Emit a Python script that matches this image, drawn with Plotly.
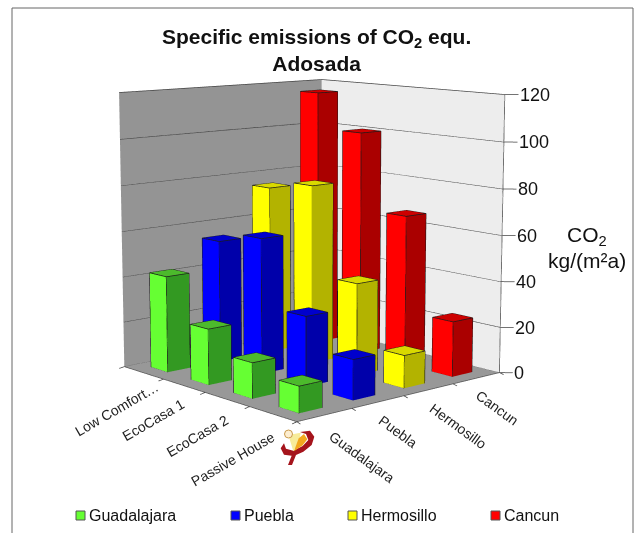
import plotly.graph_objects as go
import numpy as np

categories = ["Low Comfort…", "EcoCasa 1", "EcoCasa 2", "Passive House"]
cities = ["Guadalajara", "Puebla", "Hermosillo", "Cancun"]
guadalajara = [42, 24, 15, 11]
puebla = [54, 59, 30, 17]
hermosillo = [75, 79, 40, 14]
cancun = [116, 100, 66, 24]
z_ticks = [0, 20, 40, 60, 80, 100, 120]

series = [guadalajara, puebla, hermosillo, cancun]
face_cols = [
    ("#66ff33", "#339922", "#4cba2c"),
    ("#0000ff", "#0000aa", "#0000cc"),
    ("#ffff00", "#b3b300", "#d9d900"),
    ("#ff0000", "#aa0000", "#cc0000"),
]
# Plotly's 3D view has a fixed 45 degree field of view, so the mild perspective of the
# reference needs a tall scene; the page shows the part of it that holds the chart.
W, H = 1363, 1363
LEFT, TOP = -371, -448
BW = 0.42
PAD = 0.25
ZMAX = 120

fig = go.Figure()

def quad_mesh(pts, color, name):
    p = np.array(pts, float)
    fig.add_trace(go.Mesh3d(x=p[:, 0], y=p[:, 1], z=p[:, 2], i=[0, 0], j=[1, 2], k=[2, 3],
                            color=color, flatshading=True, name=name, hoverinfo="skip",
                            lighting=dict(ambient=1, diffuse=0, specular=0, roughness=1, fresnel=0)))

def line3d(xs, ys, zs, color="#333333", width=1.5):
    fig.add_trace(go.Scatter3d(x=xs, y=ys, z=zs, mode="lines", hoverinfo="skip",
                               line=dict(color=color, width=width), showlegend=False))

# floor and walls
quad_mesh([(0, 0, 0), (4, 0, 0), (4, 4, 0), (0, 4, 0)], "#989898", "floor")
quad_mesh([(0, 0, 0), (0, 4, 0), (0, 4, ZMAX), (0, 0, ZMAX)], "#949494", "wall left")
quad_mesh([(0, 4, 0), (4, 4, 0), (4, 4, ZMAX), (0, 4, ZMAX)], "#ededed", "wall right")

# gridlines + ticks
for v in z_ticks:
    line3d([0, 0, 4, 4.14], [0, 4, 4, 4.14], [v] * 4, "#444444", 1.5)
line3d([0, 4, 4], [0, 0, 4], [0, 0, 0], "#555555", 1.5)
for t in range(5):
    line3d([t, t + 0.04], [0, -0.12], [0, 0], "#444444", 1.5)
    line3d([4, 4.12], [t, t - 0.04], [0, 0], "#444444", 1.5)
line3d([4, 4], [4, 4], [0, ZMAX], "#444444", 1.5)

# bars
for j, vals in enumerate(series):
    front, side, top = face_cols[j]
    for i, v in enumerate(vals):
        x0, x1 = i + 0.5 - BW / 2, i + 0.5 + BW / 2
        y0, y1 = j + 0.5 - BW / 2, j + 0.5 + BW / 2
        quad_mesh([(x0, y0, 0), (x1, y0, 0), (x1, y0, v), (x0, y0, v)], front, cities[j])
        quad_mesh([(x1, y0, 0), (x1, y1, 0), (x1, y1, v), (x1, y0, v)], side, cities[j])
        quad_mesh([(x0, y0, v), (x1, y0, v), (x1, y1, v), (x0, y1, v)], top, cities[j])
        line3d([x0, x1, x1, x0, x0, x0, x1, x1, x1, x1], [y0, y0, y1, y1, y0, y0, y0, y0, y1, y1],
               [v, v, v, v, v, 0, 0, v, v, 0], "#1a1a1a", 1.5)
        line3d([x1, x1], [y0, y0], [0, v], "#1a1a1a", 1.5)

font = "Liberation Sans, Arial, sans-serif"
cat_shift = [(31, 1), (17, 5), (18, 7), (19, 9)]
city_shift = [(-11, 7), (-15, 5), (-15, 5), (-16, 4)]
scene_ann = []
for i, c in enumerate(categories):
    scene_ann.append(dict(x=i + 0.5, y=-0.2, z=0, text=c, showarrow=False, textangle=-30,
                          xanchor="right", yanchor="top", xshift=cat_shift[i][0], yshift=-cat_shift[i][1],
                          font=dict(family=font, size=14, color="#222222")))
for j, c in enumerate(cities):
    scene_ann.append(dict(x=4.2, y=j + 0.5, z=0, text=c, showarrow=False, textangle=36,
                          xanchor="left", yanchor="top", xshift=city_shift[j][0], yshift=-city_shift[j][1],
                          font=dict(family=font, size=14, color="#222222")))
for v in z_ticks:
    scene_ann.append(dict(x=4.2, y=4.2, z=v, text=str(v), showarrow=False, xanchor="left", yanchor="middle",
                          xshift=-6, font=dict(family=font, size=18, color="#111111")))

fig.update_layout(
    width=W, height=H, margin=dict(l=0, r=0, t=0, b=0),
    paper_bgcolor="white", showlegend=False,
    scene=dict(
        domain=dict(x=[0, 1], y=[0, 1]),
        xaxis=dict(visible=False, range=[-PAD, 4 + PAD]),
        yaxis=dict(visible=False, range=[-PAD, 4 + PAD]),
        zaxis=dict(visible=False, range=[-5, 125]),
        aspectmode="manual", aspectratio=dict(x=1, y=1, z=1.0),
        camera=dict(projection=dict(type="perspective"),
                    eye=dict(x=4.02, y=-3.534, z=0.896),
                    up=dict(x=0, y=0, z=1), center=dict(x=0, y=0, z=0)),
        annotations=scene_ann,
    ),
)

def px(x): return (x - LEFT) / W
def py(y): return 1 - (y - TOP) / H

centered = dict(xanchor="center", yanchor="middle")
ann = [
    dict(x=px(317), y=py(50), text="<b>Specific emissions of CO<sub>2</sub> equ.<br>Adosada</b>", showarrow=False,
         font=dict(family=font, size=21, color="#111111"), **centered),
    dict(x=px(587), y=py(236), text="CO<sub>2</sub>", showarrow=False, font=dict(family=font, size=21, color="#111111"), **centered),
    dict(x=px(587), y=py(260), text="kg/(m²a)", showarrow=False, font=dict(family=font, size=21, color="#111111"), **centered),
]
legend_x = [76, 231, 348, 491]
shapes = []
for c, lx, col in zip(cities, legend_x, face_cols):
    shapes.append(dict(type="rect", xref="paper", yref="paper", x0=px(lx), x1=px(lx + 9), y0=py(520), y1=py(511),
                       fillcolor=col[0], line=dict(color="#555555", width=1)))
    ann.append(dict(x=px(lx + 11), y=py(515.5), text=c, showarrow=False, xanchor="left", yanchor="middle",
                    font=dict(family=font, size=16, color="#111111")))

# frame of the picture: top, left and right edges
shapes.append(dict(type="path", xref="paper", yref="paper",
                   path=f"M{px(12)} {py(533)} L{px(12)} {py(8)} L{px(633)} {py(8)} L{px(633)} {py(533)}",
                   line=dict(color="#666666", width=1)))

# small logo under the front corner
def logo_path(points):
    segs = [f"{px(260 + a / 3):.5f} {py(410 + b / 3):.5f}" for a, b in points]
    return "M" + " L".join(segs) + " Z"

logo_parts = [
    ([(120, 66), (150, 62), (163, 80), (155, 105), (130, 125), (108, 135), (96, 165), (84, 165),
      (95, 137), (72, 134), (62, 115), (72, 100), (78, 116), (100, 122), (128, 108), (145, 90), (138, 72)], "#a5141c"),
    ([(85, 75), (122, 68), (116, 100), (100, 124)], "#f7ec9a"),
    ([(102, 124), (116, 85), (132, 72), (142, 88), (128, 106)], "#f2a81e"),
]
for pts, col in logo_parts:
    shapes.append(dict(type="path", xref="paper", yref="paper", path=logo_path(pts), fillcolor=col,
                       line=dict(width=0)))
shapes.append(dict(type="circle", xref="paper", yref="paper", x0=px(284.5), x1=px(292.5), y0=py(438), y1=py(430),
                   fillcolor="#fdeed0", line=dict(color="#c99a4a", width=1)))

fig.update_layout(annotations=[dict(a, xref="paper", yref="paper") for a in ann], shapes=shapes)

place = ("var g=document.getElementById('{plot_id}');g.style.position='absolute';"
         f"g.style.left='{LEFT}px';g.style.top='{TOP}px';"
         "document.documentElement.style.overflow='hidden';document.body.style.overflow='hidden';")
fig.write_html("out.html", default_width=f"{W}px", default_height=f"{H}px", post_script=place)
